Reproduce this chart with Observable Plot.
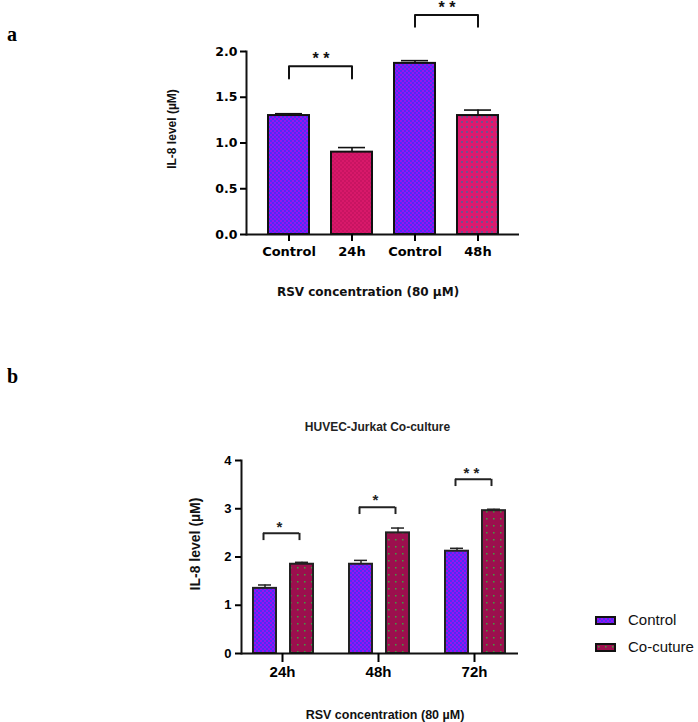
<!DOCTYPE html>
<html><head><meta charset="utf-8">
<script src="https://cdn.jsdelivr.net/npm/d3@7"></script>
<script src="https://cdn.jsdelivr.net/npm/@observablehq/plot@0.6"></script>
<style>
body{margin:0;background:#fff;}
#root{position:relative;width:698px;height:722px;overflow:hidden;font-family:"Liberation Sans",Arial,sans-serif;}
.lab{position:absolute;font-family:"Liberation Serif","Times New Roman",serif;font-weight:bold;font-size:20px;line-height:20px;}
#chartA{position:absolute;left:0;top:0;}
#chartB{position:absolute;left:0;top:340px;}
.chart svg{font-family:"Liberation Sans",Arial,sans-serif;font-weight:bold;overflow:visible;}
.leg{position:absolute;font-size:15px;line-height:18px;color:#111;}
.sw{position:absolute;}
</style></head><body>
<div id="root">
<svg width="0" height="0" style="position:absolute">
  <defs>
    <pattern id="pCtl" patternUnits="userSpaceOnUse" width="4" height="4">
      <rect width="4" height="4" fill="#4b30f4"/>
      <rect width="2" height="2" fill="#9a10f0"/>
      <rect x="2" y="2" width="2" height="2" fill="#9a10f0"/>
    </pattern>
    <pattern id="pA24" patternUnits="userSpaceOnUse" width="4" height="4">
      <rect width="4" height="4" fill="#d8186a"/>
      <rect width="2" height="2" fill="#c81462"/>
      <rect x="2" y="2" width="2" height="2" fill="#c81462"/>
    </pattern>
    <pattern id="pA48" patternUnits="userSpaceOnUse" width="5" height="5">
      <rect width="5" height="5" fill="#dc1a6e"/>
      <rect x="1" y="1" width="2" height="2" fill="#7a4a8c"/>
    </pattern>
    <pattern id="pCo" patternUnits="userSpaceOnUse" width="7" height="7">
      <rect width="7" height="7" fill="#9c0f4e"/>
      <rect x="3" y="3" width="1.5" height="1.5" fill="#3fa040"/>
    </pattern>
  </defs>
</svg>
<div class="lab" style="left:7px;top:24px">a</div>
<div class="lab" style="left:7px;top:366px">b</div>
<div id="chartA" class="chart"></div>
<div id="chartB" class="chart"></div>
<svg class="sw" style="left:595px;top:616px" width="21" height="9"><rect x="1" y="1" width="19" height="7" fill="url(#pCtl)" stroke="#111" stroke-width="2"/></svg>
<div class="leg" style="left:628px;top:611px">Control</div>
<svg class="sw" style="left:595px;top:643px" width="21" height="9"><rect x="1" y="1" width="19" height="7" fill="url(#pCo)" stroke="#111" stroke-width="2"/></svg>
<div class="leg" style="left:628px;top:638px">Co-cuture</div>
</div>
<script>
// ---------- Chart a data ----------
const aKeys = ["ctl24", "t24", "ctl48", "t48"];
const aLabels = ["Control", "24h", "Control", "48h"];
const aValues = [1.30, 0.90, 1.87, 1.30];
const aErrors = [0.02, 0.05, 0.03, 0.06];
const aYTicks = [0, 0.5, 1.0, 1.5, 2.0];
const aSigFrom = ["ctl24", "ctl48"];
const aSigTo = ["t24", "t48"];
const aSigLabel = ["* *", "* *"];
const aSigTop = [1.84, 2.40];
const aSigEnd = [1.705, 2.27];
const aSigStar = [1.96, 2.52];

// ---------- Chart b data ----------
const bGroups = ["24h", "48h", "72h"];
const bSeries = ["Control", "Co-cuture"];
const bControl = [1.35, 1.85, 2.12];
const bControlErr = [0.07, 0.08, 0.06];
const bCo = [1.85, 2.50, 2.96];
const bCoErr = [0.04, 0.10, 0.03];
const bYTicks = [0, 1, 2, 3, 4];
const bSigLabel = ["*", "*", "* *"];
const bSigTop = [2.49, 3.03, 3.61];
const bSigEnd = [2.34, 2.88, 3.46];
const bSigStar = [2.71, 3.27, 3.83];

const WIDE = "DejaVu Sans, Verdana, sans-serif";

// ---------- build chart a ----------
const aFillFor = {ctl24: "url(#pCtl)", t24: "url(#pA24)", ctl48: "url(#pCtl)", t48: "url(#pA48)"};
const rowsA = aKeys.map((k, i) => ({key: k, value: aValues[i], err: aErrors[i], fill: aFillFor[k]}));
const sigA = aSigFrom.map((f, i) => ({id: i, from: f, to: aSigTo[i], label: aSigLabel[i], top: aSigTop[i], end: aSigEnd[i], star: aSigStar[i]}));
const bracketPtsA = sigA.flatMap(s => [
  {id: s.id, x: s.from, y: s.end}, {id: s.id, x: s.from, y: s.top},
  {id: s.id, x: s.to, y: s.top}, {id: s.id, x: s.to, y: s.end}
]);

const chartA = Plot.plot({
  width: 698, height: 310,
  marginLeft: 246, marginRight: 179, marginTop: 51, marginBottom: 76,
  x: {domain: aKeys, range: [256.5, 508.5], paddingInner: 0.35, paddingOuter: 0.175},
  y: {domain: [0, 2]},
  color: {type: "identity"},
  marks: [
    Plot.ruleX(rowsA, {x: "key", y1: "value", y2: d => d.value + d.err, stroke: "#111", strokeWidth: 1.6}),
    Plot.tickY(rowsA, {x: "key", y: d => d.value + d.err, insetLeft: 7, insetRight: 7, stroke: "#111", strokeWidth: 1.6}),
    Plot.barY(rowsA, {x: "key", y: "value", fill: "fill", stroke: "#111", strokeWidth: 2}),
    Plot.frame({anchor: "left", stroke: "#111", strokeWidth: 2}),
    Plot.ruleY([0], {stroke: "#111", strokeWidth: 2}),
    Plot.axisY({ticks: aYTicks, tickFormat: d3.format(".1f"), tickSize: 6, tickPadding: 3, fontSize: 12.5, fontFamily: WIDE, fontWeight: "bold", strokeWidth: 2, label: null}),
    Plot.axisX({tickFormat: k => aLabels[aKeys.indexOf(k)], tickSize: 7, tickPadding: 5, fontSize: 13, fontFamily: WIDE, fontWeight: "bold", strokeWidth: 2, label: null}),
    Plot.line(bracketPtsA, {x: "x", y: "y", z: "id", stroke: "#111", strokeWidth: 2}),
    Plot.text(sigA, {x: "from", y: "star", text: "label", dx: 32, dy: 4, fontSize: 16, fontWeight: "bold", fill: "#111"}),
    Plot.text(["IL-8 level (µM)"], {frameAnchor: "left", textAnchor: "middle", lineAnchor: "middle", dx: -74, dy: -14, rotate: -90, fontSize: 12, fontWeight: "bold", fill: "#111"}),
    Plot.text(["RSV concentration (80 µM)"], {frameAnchor: "bottom", textAnchor: "middle", lineAnchor: "middle", dx: -15, dy: 58, fontSize: 12, fontFamily: WIDE, fontWeight: "bold", fill: "#111"})
  ]
});
document.getElementById("chartA").append(chartA);

// ---------- build chart b ----------
const ctlRows = bGroups.map((g, i) => ({group: g, series: bSeries[0], value: bControl[i], err: bControlErr[i]}));
const coRows = bGroups.map((g, i) => ({group: g, series: bSeries[1], value: bCo[i], err: bCoErr[i]}));
const sigB = bGroups.map((g, i) => ({group: g, label: bSigLabel[i], top: bSigTop[i], end: bSigEnd[i], star: bSigStar[i]}));

const chartB = Plot.plot({
  width: 698, height: 382,
  marginLeft: 241, marginRight: 180, marginTop: 120, marginBottom: 69,
  x: {domain: bGroups, range: [234, 522], padding: 0},
  y: {domain: [0, 4]},
  marks: [
    Plot.ruleX(ctlRows, {x: "group", y1: "value", y2: d => d.value + d.err, dx: -17.5, stroke: "#222", strokeWidth: 1.5}),
    Plot.tickY(ctlRows, {x: "group", y: d => d.value + d.err, insetLeft: 24, insetRight: 59, stroke: "#222", strokeWidth: 1.5}),
    Plot.ruleX(coRows, {x: "group", y1: "value", y2: d => d.value + d.err, dx: 19.5, stroke: "#222", strokeWidth: 1.5}),
    Plot.tickY(coRows, {x: "group", y: d => d.value + d.err, insetLeft: 61, insetRight: 22, stroke: "#222", strokeWidth: 1.5}),
    Plot.barY(ctlRows, {x: "group", y: "value", fill: "url(#pCtl)", insetLeft: 19, insetRight: 54, stroke: "#222", strokeWidth: 2}),
    Plot.barY(coRows, {x: "group", y: "value", fill: "url(#pCo)", insetLeft: 56, insetRight: 17, stroke: "#222", strokeWidth: 2}),
    Plot.frame({anchor: "left", stroke: "#111", strokeWidth: 2}),
    Plot.ruleY([0], {stroke: "#111", strokeWidth: 2}),
    Plot.axisY({ticks: bYTicks, tickFormat: d3.format("d"), tickSize: 6, tickPadding: 4, fontSize: 13, fontWeight: "bold", strokeWidth: 2, label: null}),
    Plot.axisX({tickSize: 9, tickPadding: 4, fontSize: 15, fontWeight: "bold", strokeWidth: 2, label: null}),
    Plot.tickY(sigB, {x: "group", y: "top", insetLeft: 29, insetRight: 31, stroke: "#222", strokeWidth: 2}),
    Plot.ruleX(sigB, {x: "group", y1: "end", y2: "top", dx: -19, stroke: "#222", strokeWidth: 2}),
    Plot.ruleX(sigB, {x: "group", y1: "end", y2: "top", dx: 17, stroke: "#222", strokeWidth: 2}),
    Plot.text(sigB, {x: "group", y: "star", text: "label", dx: -3, dy: 4, fontSize: 15, fontWeight: "bold", fill: "#222"}),
    Plot.text(["HUVEC-Jurkat Co-culture"], {frameAnchor: "top", textAnchor: "middle", lineAnchor: "middle", dx: -2.5, dy: -33, fontSize: 12, fontWeight: "bold", fill: "#222"}),
    Plot.text(["IL-8 level (µM)"], {frameAnchor: "left", textAnchor: "middle", lineAnchor: "middle", dx: -46, dy: -13, rotate: -90, fontSize: 14, fontWeight: "bold", fill: "#111"}),
    Plot.text(["RSV concentration (80 µM)"], {frameAnchor: "bottom", textAnchor: "middle", lineAnchor: "middle", dx: 5, dy: 61, fontSize: 12.5, fontWeight: "bold", fill: "#111"})
  ]
});
document.getElementById("chartB").append(chartB);
</script>
</body></html>
